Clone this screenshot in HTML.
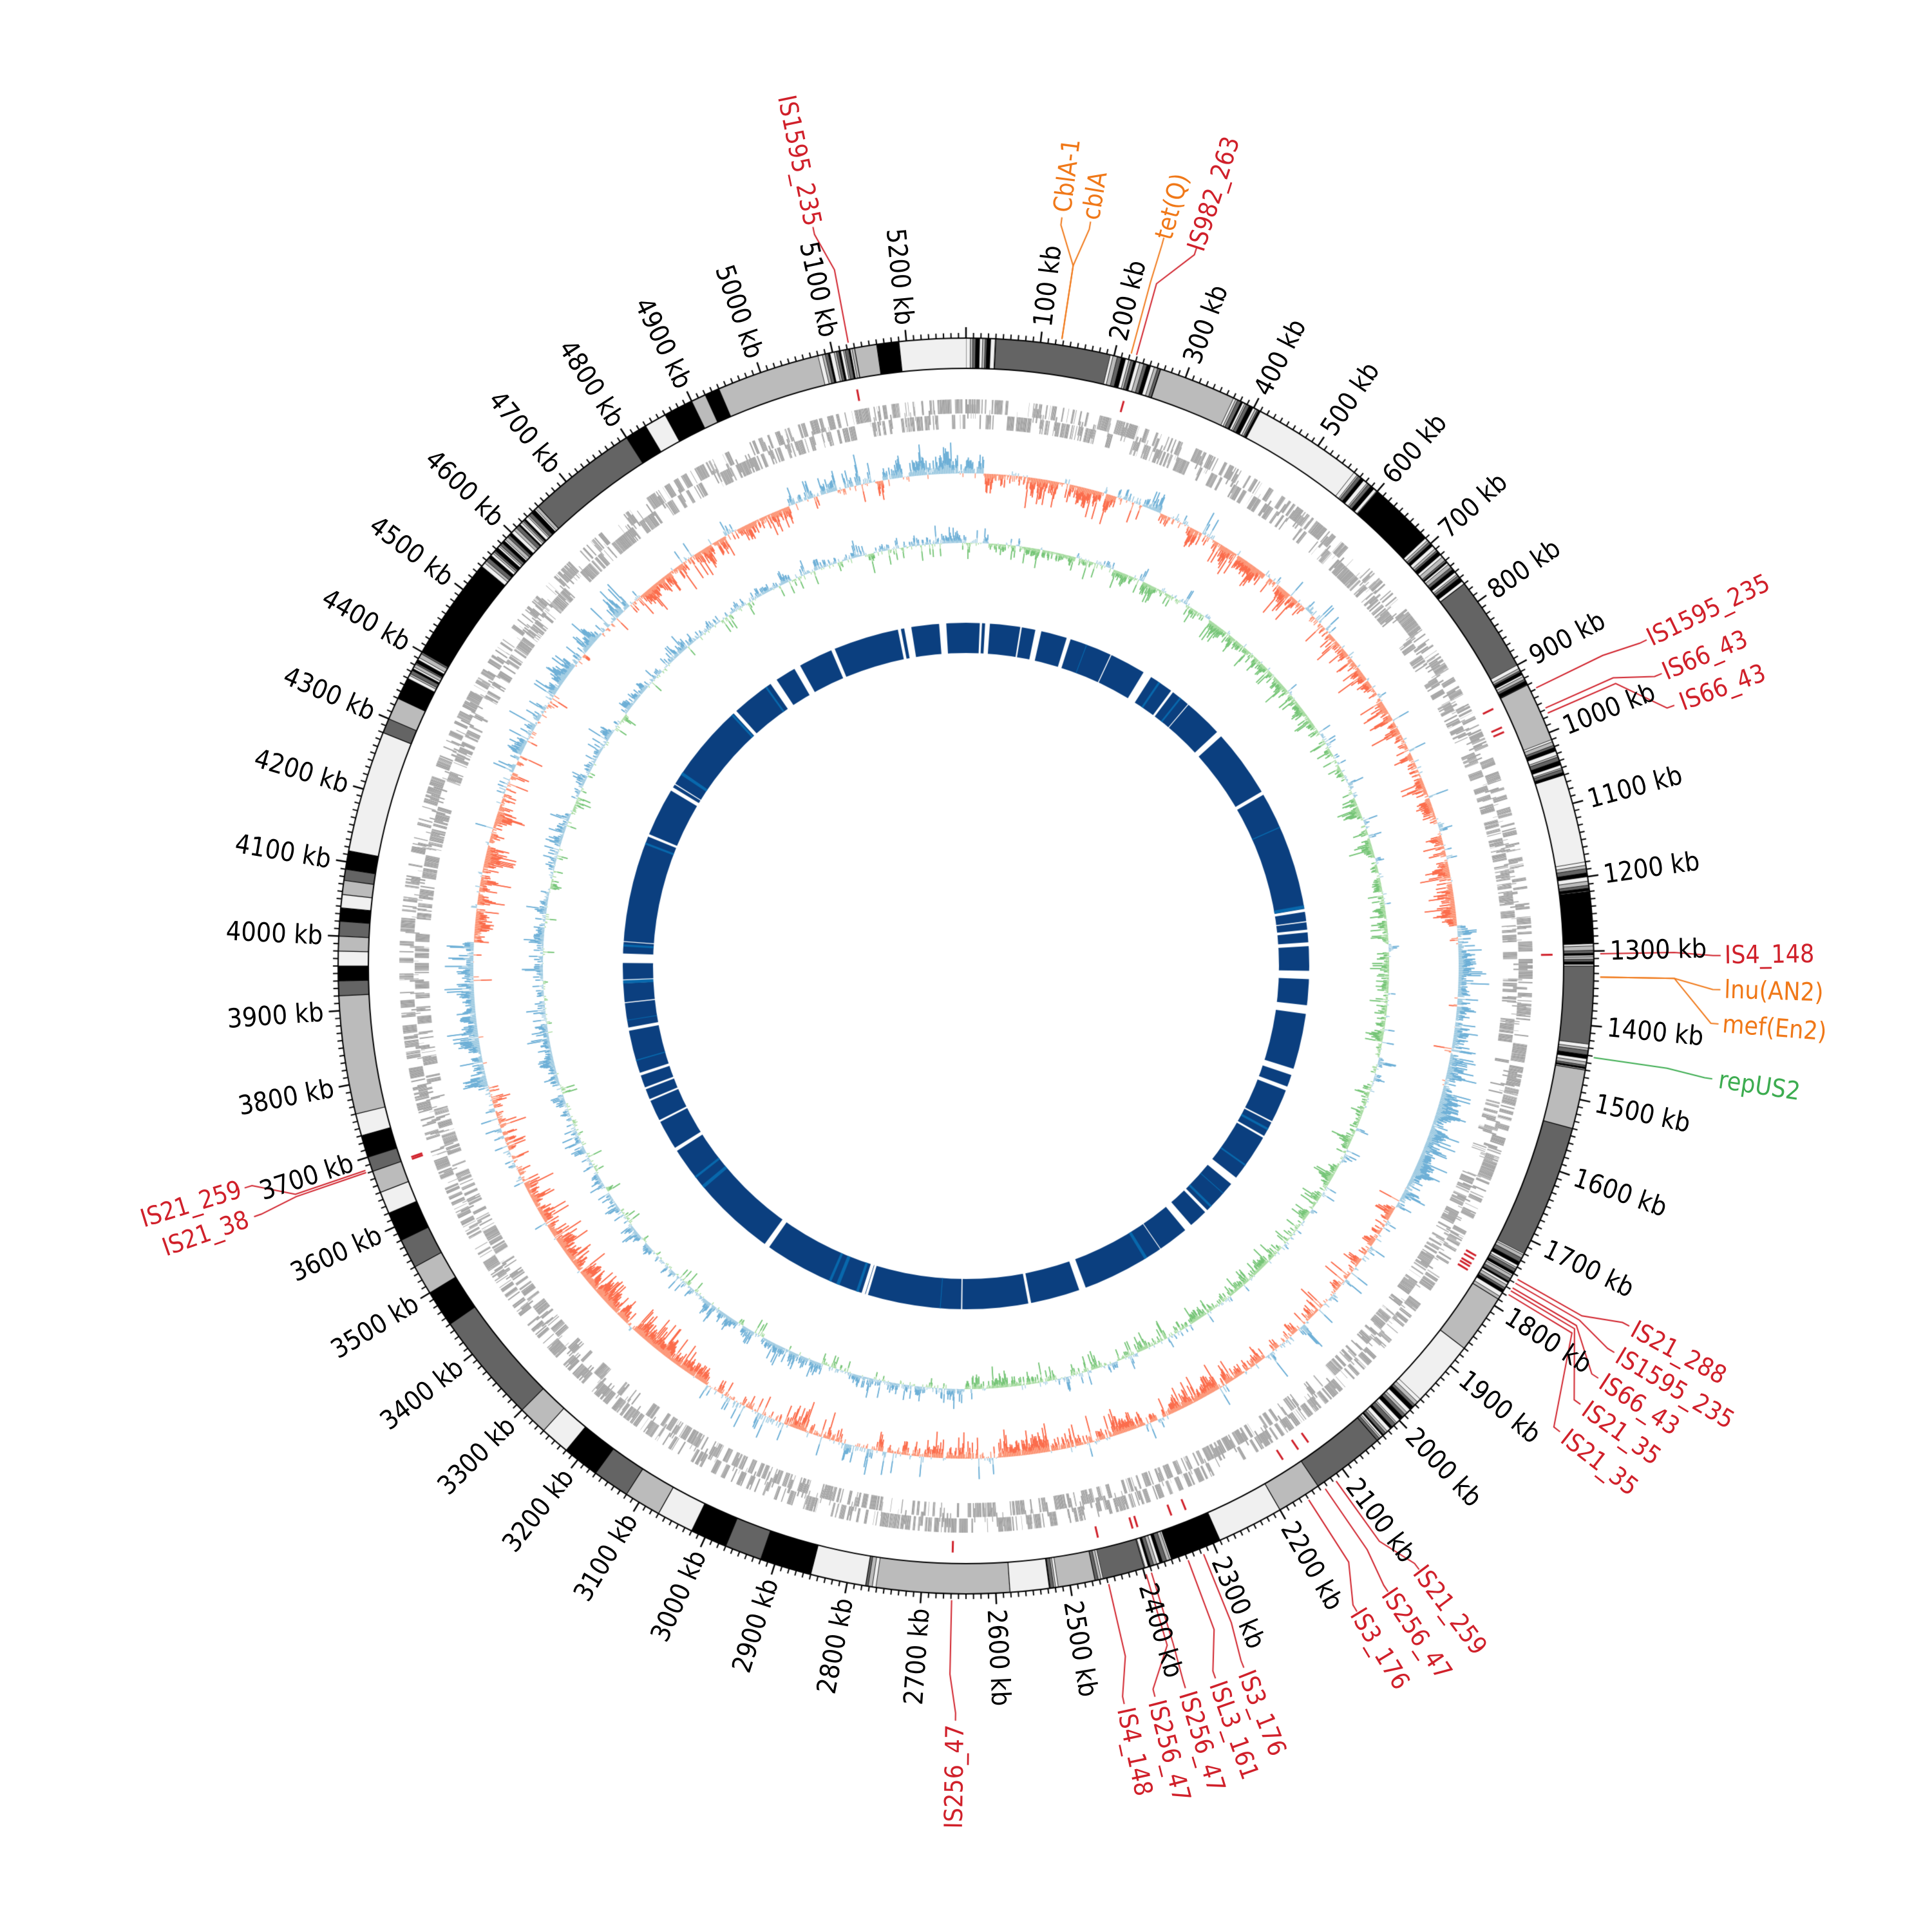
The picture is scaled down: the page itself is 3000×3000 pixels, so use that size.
<!DOCTYPE html>
<html><head><meta charset="utf-8">
<style>
html,body{margin:0;padding:0;background:#fff;}
#wrap{position:relative;width:3000px;height:3000px;overflow:hidden;}
canvas,svg{position:absolute;left:0;top:0;}
.t{font-family:"DejaVu Sans Condensed","Liberation Sans Narrow","DejaVu Sans",sans-serif;font-stretch:condensed;font-size:41px;fill:#000;}
.f{font-family:"DejaVu Sans Condensed","Liberation Sans Narrow","DejaVu Sans",sans-serif;font-stretch:condensed;font-size:39px;}
.r{fill:#d0202a}.o{fill:#f07818}.g{fill:#3cac50}
</style></head><body>
<div id="wrap">
<canvas id="c" width="3000" height="3000"></canvas>
<svg width="3000" height="3000" viewBox="0 0 3000 3000" xmlns="http://www.w3.org/2000/svg">
<g class="t" dominant-baseline="central">
<g text-anchor="start">
<text transform="rotate(6.818 1500 1500) translate(1500 500) rotate(-90)">100 kb</text>
<text transform="rotate(13.636 1500 1500) translate(1500 500) rotate(-90)">200 kb</text>
<text transform="rotate(20.455 1500 1500) translate(1500 500) rotate(-90)">300 kb</text>
<text transform="rotate(27.273 1500 1500) translate(1500 500) rotate(-90)">400 kb</text>
<text transform="rotate(34.091 1500 1500) translate(1500 500) rotate(-90)">500 kb</text>
<text transform="rotate(40.909 1500 1500) translate(1500 500) rotate(-90)">600 kb</text>
<text transform="rotate(47.727 1500 1500) translate(1500 500) rotate(-90)">700 kb</text>
<text transform="rotate(54.545 1500 1500) translate(1500 500) rotate(-90)">800 kb</text>
<text transform="rotate(61.364 1500 1500) translate(1500 500) rotate(-90)">900 kb</text>
<text transform="rotate(68.182 1500 1500) translate(1500 500) rotate(-90)">1000 kb</text>
<text transform="rotate(75 1500 1500) translate(1500 500) rotate(-90)">1100 kb</text>
<text transform="rotate(81.818 1500 1500) translate(1500 500) rotate(-90)">1200 kb</text>
<text transform="rotate(88.636 1500 1500) translate(1500 500) rotate(-90)">1300 kb</text>
<text transform="rotate(95.455 1500 1500) translate(1500 500) rotate(-90)">1400 kb</text>
<text transform="rotate(102.273 1500 1500) translate(1500 500) rotate(-90)">1500 kb</text>
<text transform="rotate(109.091 1500 1500) translate(1500 500) rotate(-90)">1600 kb</text>
<text transform="rotate(115.909 1500 1500) translate(1500 500) rotate(-90)">1700 kb</text>
<text transform="rotate(122.727 1500 1500) translate(1500 500) rotate(-90)">1800 kb</text>
<text transform="rotate(129.545 1500 1500) translate(1500 500) rotate(-90)">1900 kb</text>
<text transform="rotate(136.364 1500 1500) translate(1500 500) rotate(-90)">2000 kb</text>
<text transform="rotate(143.182 1500 1500) translate(1500 500) rotate(-90)">2100 kb</text>
<text transform="rotate(150 1500 1500) translate(1500 500) rotate(-90)">2200 kb</text>
<text transform="rotate(156.818 1500 1500) translate(1500 500) rotate(-90)">2300 kb</text>
<text transform="rotate(163.636 1500 1500) translate(1500 500) rotate(-90)">2400 kb</text>
<text transform="rotate(170.455 1500 1500) translate(1500 500) rotate(-90)">2500 kb</text>
<text transform="rotate(177.273 1500 1500) translate(1500 500) rotate(-90)">2600 kb</text>
</g>
<g text-anchor="end">
<text transform="rotate(184.091 1500 1500) translate(1500 500) rotate(90)">2700 kb</text>
<text transform="rotate(190.909 1500 1500) translate(1500 500) rotate(90)">2800 kb</text>
<text transform="rotate(197.727 1500 1500) translate(1500 500) rotate(90)">2900 kb</text>
<text transform="rotate(204.545 1500 1500) translate(1500 500) rotate(90)">3000 kb</text>
<text transform="rotate(211.364 1500 1500) translate(1500 500) rotate(90)">3100 kb</text>
<text transform="rotate(218.182 1500 1500) translate(1500 500) rotate(90)">3200 kb</text>
<text transform="rotate(225 1500 1500) translate(1500 500) rotate(90)">3300 kb</text>
<text transform="rotate(231.818 1500 1500) translate(1500 500) rotate(90)">3400 kb</text>
<text transform="rotate(238.636 1500 1500) translate(1500 500) rotate(90)">3500 kb</text>
<text transform="rotate(245.455 1500 1500) translate(1500 500) rotate(90)">3600 kb</text>
<text transform="rotate(252.273 1500 1500) translate(1500 500) rotate(90)">3700 kb</text>
<text transform="rotate(259.091 1500 1500) translate(1500 500) rotate(90)">3800 kb</text>
<text transform="rotate(265.909 1500 1500) translate(1500 500) rotate(90)">3900 kb</text>
<text transform="rotate(272.727 1500 1500) translate(1500 500) rotate(90)">4000 kb</text>
<text transform="rotate(279.545 1500 1500) translate(1500 500) rotate(90)">4100 kb</text>
<text transform="rotate(286.364 1500 1500) translate(1500 500) rotate(90)">4200 kb</text>
<text transform="rotate(293.182 1500 1500) translate(1500 500) rotate(90)">4300 kb</text>
<text transform="rotate(300 1500 1500) translate(1500 500) rotate(90)">4400 kb</text>
<text transform="rotate(306.818 1500 1500) translate(1500 500) rotate(90)">4500 kb</text>
<text transform="rotate(313.636 1500 1500) translate(1500 500) rotate(90)">4600 kb</text>
<text transform="rotate(320.455 1500 1500) translate(1500 500) rotate(90)">4700 kb</text>
<text transform="rotate(327.273 1500 1500) translate(1500 500) rotate(90)">4800 kb</text>
<text transform="rotate(334.091 1500 1500) translate(1500 500) rotate(90)">4900 kb</text>
<text transform="rotate(340.909 1500 1500) translate(1500 500) rotate(90)">5000 kb</text>
<text transform="rotate(347.727 1500 1500) translate(1500 500) rotate(90)">5100 kb</text>
<text transform="rotate(354.545 1500 1500) translate(1500 500) rotate(90)">5200 kb</text>
</g>
</g>
<g class="f" dominant-baseline="central">
<g text-anchor="start">
<text class="o" transform="rotate(7.3 1500 1500) translate(1500 320) rotate(-90)">CblA-1</text>
<text class="o" transform="rotate(9.5 1500 1500) translate(1500 325) rotate(-90)">cblA</text>
<text class="o" transform="rotate(15.2 1500 1500) translate(1500 330) rotate(-90)">tet(Q)</text>
<text class="r" transform="rotate(17.8 1500 1500) translate(1500 333) rotate(-90)">IS982_263</text>
<text class="r" transform="rotate(64.4 1500 1500) translate(1500 325) rotate(-90)">IS1595_235</text>
<text class="r" transform="rotate(67.2 1500 1500) translate(1500 325) rotate(-90)">IS66_43</text>
<text class="r" transform="rotate(69.8 1500 1500) translate(1500 318) rotate(-90)">IS66_43</text>
<text class="r" transform="rotate(89.2 1500 1500) translate(1500 322) rotate(-90)">IS4_148</text>
<text class="o" transform="rotate(91.8 1500 1500) translate(1500 322) rotate(-90)">lnu(AN2)</text>
<text class="o" transform="rotate(94.4 1500 1500) translate(1500 322) rotate(-90)">mef(En2)</text>
<text class="g" transform="rotate(98.6 1500 1500) translate(1500 318) rotate(-90)">repUS2</text>
<text class="r" transform="rotate(118.5 1500 1500) translate(1500 322) rotate(-90)">IS21_288</text>
<text class="r" transform="rotate(120.8 1500 1500) translate(1500 322) rotate(-90)">IS1595_235</text>
<text class="r" transform="rotate(123.1 1500 1500) translate(1500 322) rotate(-90)">IS66_43</text>
<text class="r" transform="rotate(125.5 1500 1500) translate(1500 320) rotate(-90)">IS21_35</text>
<text class="r" transform="rotate(128.1 1500 1500) translate(1500 320) rotate(-90)">IS21_35</text>
<text class="r" transform="rotate(143.1 1500 1500) translate(1500 330) rotate(-90)">IS21_259</text>
<text class="r" transform="rotate(146.0 1500 1500) translate(1500 330) rotate(-90)">IS256_47</text>
<text class="r" transform="rotate(148.8 1500 1500) translate(1500 330) rotate(-90)">IS3_176</text>
<text class="r" transform="rotate(158.4 1500 1500) translate(1500 322) rotate(-90)">IS3_176</text>
<text class="r" transform="rotate(160.7 1500 1500) translate(1500 322) rotate(-90)">ISL3_161</text>
<text class="r" transform="rotate(163.1 1500 1500) translate(1500 322) rotate(-90)">IS256_47</text>
<text class="r" transform="rotate(165.5 1500 1500) translate(1500 322) rotate(-90)">IS256_47</text>
<text class="r" transform="rotate(167.9 1500 1500) translate(1500 322) rotate(-90)">IS4_148</text>
</g>
<g text-anchor="end">
<text class="r" transform="rotate(180.8 1500 1500) translate(1500 322) rotate(90)">IS256_47</text>
<text class="r" transform="rotate(252.9 1500 1500) translate(1500 322) rotate(90)">IS21_259</text>
<text class="r" transform="rotate(250.6 1500 1500) translate(1500 318) rotate(90)">IS21_38</text>
<text class="r" transform="rotate(348.3 1500 1500) translate(1500 326) rotate(90)">IS1595_235</text>
</g>
</g>
</svg>
</div>
<script>
(function(){
var cv=document.getElementById('c'),ctx=cv.getContext('2d');
var CX=1500,CY=1500,G=5280;
function th(kb){return kb*360/G;}
function rad(d){return (d-90)*Math.PI/180;}
function P(t,r){var a=t*Math.PI/180;return [CX+r*Math.sin(a),CY-r*Math.cos(a)];}
var s=12345;function rnd(){s|=0;s=s+0x6D2B79F5|0;var t=Math.imul(s^s>>>15,1|s);t=t+Math.imul(t^t>>>7,61|t)^t;return((t^t>>>14)>>>0)/4294967296;}
function gauss(){return (rnd()+rnd()+rnd()+rnd()-2)*1.2;}
function sector(t1,t2,r1,r2,col){ctx.beginPath();ctx.arc(CX,CY,r2,rad(t1),rad(t2));ctx.arc(CX,CY,r1,rad(t2),rad(t1),true);ctx.closePath();ctx.fillStyle=col;ctx.fill();}
function rline(t,r1,r2,col,w){var a=P(t,r1),b=P(t,r2);ctx.beginPath();ctx.moveTo(a[0],a[1]);ctx.lineTo(b[0],b[1]);ctx.strokeStyle=col;ctx.lineWidth=w;ctx.stroke();}
var C={L:'#f0f0f0',G:'#bbbbbb',D:'#646464',B:'#000000'};
var bands=[[0,40,'X'],[40,195,'D'],[195,265,'X'],[265,370,'G'],[370,410,'X'],[410,560,'L'],[560,600,'X'],[600,690,'B'],[690,770,'X'],[770,900,'D'],[900,930,'X'],[930,1010,'G'],[1010,1060,'X'],[1060,1180,'L'],[1180,1220,'X'],[1220,1290,'B'],[1290,1320,'X'],[1320,1425,'D'],[1425,1460,'X'],[1460,1540,'G'],[1540,1720,'D'],[1720,1790,'X'],[1790,1870,'G'],[1870,1960,'L'],[1960,2040,'X'],[2040,2140,'D'],[2140,2200,'G'],[2200,2290,'L'],[2290,2360,'B'],[2360,2398,'X'],[2398,2455,'D'],[2455,2466,'X'],[2466,2516,'G'],[2516,2528,'X'],[2528,2581,'L'],[2581,2761,'G'],[2761,2775,'X'],[2775,2850,'L'],[2850,2920,'B'],[2920,2970,'D'],[2970,3020,'B'],[3020,3070,'L'],[3070,3120,'G'],[3120,3170,'D'],[3170,3220,'B'],[3220,3260,'L'],[3260,3300,'G'],[3300,3450,'D'],[3450,3500,'B'],[3500,3540,'G'],[3540,3580,'D'],[3580,3620,'B'],[3620,3650,'L'],[3650,3680,'G'],[3680,3700,'D'],[3700,3730,'B'],[3730,3760,'L'],[3760,3920,'G'],[3920,3940,'D'],[3940,3960,'B'],[3960,3980,'L'],[3980,4000,'G'],[4000,4020,'D'],[4020,4038,'B'],[4038,4056,'L'],[4056,4075,'G'],[4075,4090,'D'],[4090,4115,'B'],[4115,4280,'L'],[4280,4300,'D'],[4300,4330,'G'],[4330,4360,'B'],[4360,4400,'X'],[4400,4540,'B'],[4540,4600,'X'],[4600,4650,'X'],[4650,4800,'D'],[4800,4830,'B'],[4830,4860,'L'],[4860,4900,'B'],[4900,4920,'G'],[4920,4940,'B'],[4940,5080,'G'],[5080,5130,'X'],[5130,5160,'G'],[5160,5190,'B'],[5190,5280,'L']];
var R1=928,R2=975;
var cyc=['L','G','D','B'];
bands.forEach(function(b){
 if(b[2]!=='X'){sector(th(b[0]),th(b[1]),R1,R2,C[b[2]]);rline(th(b[0]),R1,R2,'#000',1.2);}
 else{var p=b[0],i=0;while(p<b[1]){var w=2+rnd()*4;var e=Math.min(b[1],p+w);sector(th(p),th(e)+0.02,R1,R2,C[cyc[i%4]]);rline(th(p),R1,R2,'#000',0.8);p=e;i++;}}
});
ctx.lineWidth=2;ctx.strokeStyle='#000';
ctx.beginPath();ctx.arc(CX,CY,R2,0,2*Math.PI);ctx.stroke();
ctx.beginPath();ctx.arc(CX,CY,R1,0,2*Math.PI);ctx.stroke();
for(var k=0;k<G;k+=10){var maj=(k%100===0);rline(th(k),R2,maj?R2+17:R2+8,'#000',maj?2.5:2);}
// gene ring (denser)
var pos=0,lane=rnd()<0.5?0:1;
while(pos<G){var len=0.3+rnd()*2.0;if(rnd()<0.2)lane=1-lane;var r1=lane?858:834,r2=lane?880:856;
 if(rnd()<0.12){r1+=lane?-8:8;r2+=lane?-8:8;}
 sector(th(pos),th(pos+len),r1,r2,'#a0a0a0');pos+=len+0.03+rnd()*0.12;if(rnd()<0.015)pos+=1+rnd()*3;}
var feats=[[349.3,'r'],[15.6,'r'],[64.0,'r'],[66.0,'r'],[66.5,'r'],[88.9,'r'],[119.6,'r'],[120.0,'r'],[120.5,'r'],[120.8,'r'],[121.2,'r'],[144.3,'r'],[145.5,'r'],[147.3,'r'],[158.0,'r'],[159.5,'r'],[163.0,'r'],[163.5,'r'],[167.0,'r'],[181.3,'r'],[250.8,'r'],[251.0,'r']];
var FC={r:'#d0202a',o:'#f07818',g:'#3cac50'};
feats.forEach(function(f){rline(f[0],893,911,FC.r,3);});
function track(base,biasF,posFill,posLine,negFill,negLine,amp,maxv){
 var N=3520,step=G/N,sm=0;
 for(var i=0;i<N;i++){var kb=i*step;sm=sm*0.85+gauss()*0.35;
  var v=biasF(kb)*0.7+sm*amp*0.9+gauss()*amp*0.45;
  if(rnd()<0.15)v+=(v>=0?1:-1)*rnd()*amp*1.8;
  v=Math.max(-maxv,Math.min(maxv,v));
  var t1=th(kb),t2=th(kb+step)+0.01;
  if(v>=0){sector(t1,t2,base,base+v,posFill);if(Math.abs(v)>amp*0.6)rline((t1+t2)/2,base+v*0.4,base+v,posLine,1.8);}
  else{sector(t1,t2,base+v,base,negFill);if(Math.abs(v)>amp*0.6)rline((t1+t2)/2,base+v*0.4,base+v,negLine,1.8);}
 }}
function gcBias(k){var R=[[0,30,16],[30,260,-16],[260,340,10],[340,1250,-13],[1250,1750,20],[1750,2100,-6],[2100,2750,-16],[2750,3100,-2],[3100,3550,-20],[3550,3750,-10],[3750,4000,18],[4000,4300,-16],[4300,4650,9],[4650,4950,-16],[4950,5150,4],[5150,5280,16]];
 for(var i=0;i<R.length;i++)if(k>=R[i][0]&&k<R[i][1])return R[i][2];return 0;}
track(765,gcBias,'#9ecae1','#6baed6','#fc9272','#fb6a4a',18,48);
track(657,function(k){return k<2640?-6:6;},'#9ecae1','#6baed6','#a1d99b','#74c476',12,42);
sector(0,360,486,533,'#0b3f7f');
for(var i=0;i<45;i++){var t=rnd()*360,w=0.1+rnd()*0.6;if(rnd()<0.15)w+=0.8;sector(t,t+w,484,535,'#ffffff');}
for(var i=0;i<25;i++){var t=rnd()*360,w=0.1+rnd()*0.5;sector(t,t+w,486,533,'#0868ac');}
[[270.5,1.6],[90.8,1.4],[3.2,0.8],[-4.5,1.2],[139,1.3],[330,1.1],[215,0.9],[47,1]].forEach(function(g){sector(g[0],g[0]+g[1],484,535,'#fff');});
var con=[[349.3,348.3,'r'],[8.7,7.3,'o'],[8.7,9.5,'o'],[15.1,15.2,'o'],[15.6,17.8,'r'],[64.0,64.4,'r'],[66.0,67.2,'r'],[66.5,69.8,'r'],[88.9,89.2,'r'],[91.0,91.8,'o'],[91.0,94.4,'o'],[98.3,98.6,'g'],[119.6,118.5,'r'],[120.0,120.8,'r'],[120.5,123.1,'r'],[120.8,125.5,'r'],[121.2,128.1,'r'],[144.3,143.1,'r'],[145.5,146.0,'r'],[147.3,148.8,'r'],[158.0,158.4,'r'],[159.5,160.7,'r'],[163.0,163.1,'r'],[163.5,165.5,'r'],[167.0,167.9,'r'],[181.3,180.8,'r'],[251.2,252.9,'r'],[251.0,250.6,'r']];
con.forEach(function(c){var a=P(c[0],985),b=P(c[0],1100),d=P(c[1],1160),e=P(c[1],1172);
 ctx.beginPath();ctx.moveTo(a[0],a[1]);ctx.lineTo(b[0],b[1]);ctx.lineTo(d[0],d[1]);ctx.lineTo(e[0],e[1]);ctx.strokeStyle=FC[c[2]];ctx.lineWidth=2;ctx.stroke();});
})();
</script>
</body></html>
